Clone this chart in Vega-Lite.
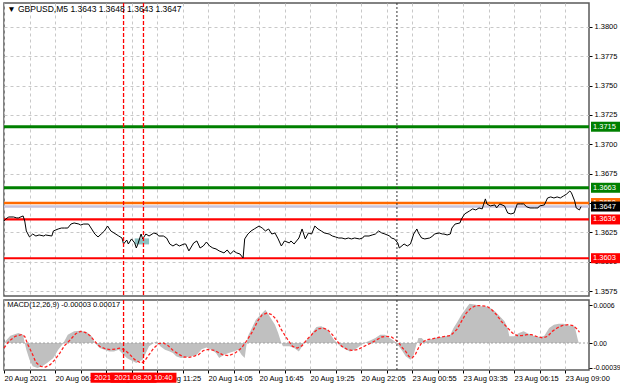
{
  "$schema": "https://vega.github.io/schema/vega-lite/v6.json",
  "background": "white",
  "padding": {"left": 0, "top": 1, "right": 0, "bottom": 0},
  "spacing": 0,
  "config": {
    "font": "Liberation Sans",
    "view": {"stroke": "#5a5a5a", "strokeWidth": 1.5},
    "axis": {"labelFont": "Liberation Sans", "labelFontSize": 7.5, "labelColor": "#000000", "gridColor": "#c8c8c8", "gridDash": [3, 3], "gridWidth": 1, "domain": false, "tickColor": "#000000", "title": null, "labelOverlap": false, "tickCount": 40}
  },
  "datasets": {
    "price": [
      {"bar":0,"price":1.36347},{"bar":1,"price":1.36364},{"bar":3,"price":1.36381},{"bar":6,"price":1.36381},{"bar":8,"price":1.36373},{"bar":9,"price":1.36373},{"bar":12,"price":1.3639},{"bar":13,"price":1.36347},{"bar":14,"price":1.36262},{"bar":16,"price":1.36211},{"bar":18,"price":1.36236},{"bar":20,"price":1.36219},{"bar":22,"price":1.36228},{"bar":25,"price":1.36219},{"bar":26,"price":1.36228},{"bar":30,"price":1.36219},{"bar":31,"price":1.36262},{"bar":34,"price":1.36279},{"bar":36,"price":1.36287},{"bar":38,"price":1.36287},{"bar":40,"price":1.36287},{"bar":42,"price":1.36321},{"bar":44,"price":1.3633},{"bar":47,"price":1.36321},{"bar":48,"price":1.36313},{"bar":50,"price":1.36321},{"bar":53,"price":1.36321},{"bar":55,"price":1.36279},{"bar":57,"price":1.36236},{"bar":59,"price":1.36211},{"bar":61,"price":1.36236},{"bar":63,"price":1.36262},{"bar":65,"price":1.36304},{"bar":67,"price":1.36262},{"bar":69,"price":1.36245},{"bar":72,"price":1.36219},{"bar":74,"price":1.36202},{"bar":75,"price":1.36151},{"bar":77,"price":1.36185},{"bar":78,"price":1.36151},{"bar":80,"price":1.36194},{"bar":82,"price":1.3616},{"bar":83,"price":1.36117},{"bar":84,"price":1.36151},{"bar":86,"price":1.36236},{"bar":87,"price":1.36194},{"bar":89,"price":1.36236},{"bar":91,"price":1.36219},{"bar":94,"price":1.36245},{"bar":96,"price":1.36236},{"bar":97,"price":1.36219},{"bar":100,"price":1.36219},{"bar":102,"price":1.36202},{"bar":104,"price":1.36151},{"bar":106,"price":1.36134},{"bar":108,"price":1.36151},{"bar":110,"price":1.36134},{"bar":113,"price":1.36151},{"bar":114,"price":1.36151},{"bar":116,"price":1.36092},{"bar":119,"price":1.3616},{"bar":121,"price":1.36177},{"bar":123,"price":1.36117},{"bar":125,"price":1.36134},{"bar":127,"price":1.36168},{"bar":129,"price":1.36134},{"bar":131,"price":1.36117},{"bar":133,"price":1.36109},{"bar":135,"price":1.36092},{"bar":138,"price":1.36075},{"bar":140,"price":1.361},{"bar":142,"price":1.36066},{"bar":144,"price":1.36092},{"bar":146,"price":1.36075},{"bar":148,"price":1.36066},{"bar":150,"price":1.36032},{"bar":151,"price":1.36194},{"bar":153,"price":1.36236},{"bar":155,"price":1.36262},{"bar":157,"price":1.36279},{"bar":160,"price":1.36304},{"bar":162,"price":1.36287},{"bar":164,"price":1.36262},{"bar":166,"price":1.36279},{"bar":168,"price":1.36236},{"bar":170,"price":1.36245},{"bar":172,"price":1.36194},{"bar":174,"price":1.36134},{"bar":176,"price":1.36177},{"bar":179,"price":1.3616},{"bar":180,"price":1.36177},{"bar":182,"price":1.36151},{"bar":185,"price":1.36202},{"bar":187,"price":1.36279},{"bar":189,"price":1.36194},{"bar":191,"price":1.36245},{"bar":193,"price":1.36236},{"bar":195,"price":1.36304},{"bar":197,"price":1.36279},{"bar":199,"price":1.36262},{"bar":201,"price":1.36245},{"bar":204,"price":1.36236},{"bar":206,"price":1.36219},{"bar":208,"price":1.36211},{"bar":210,"price":1.36202},{"bar":212,"price":1.36202},{"bar":214,"price":1.36194},{"bar":216,"price":1.36202},{"bar":218,"price":1.36194},{"bar":220,"price":1.36202},{"bar":223,"price":1.36194},{"bar":225,"price":1.36202},{"bar":226,"price":1.36219},{"bar":229,"price":1.36219},{"bar":231,"price":1.36228},{"bar":233,"price":1.36236},{"bar":235,"price":1.36262},{"bar":237,"price":1.36245},{"bar":239,"price":1.36236},{"bar":242,"price":1.36219},{"bar":243,"price":1.36202},{"bar":245,"price":1.36194},{"bar":247,"price":1.3616},{"bar":248,"price":1.36117},{"bar":251,"price":1.36151},{"bar":253,"price":1.36134},{"bar":255,"price":1.36151},{"bar":257,"price":1.36236},{"bar":259,"price":1.36279},{"bar":260,"price":1.36245},{"bar":262,"price":1.36202},{"bar":264,"price":1.36194},{"bar":267,"price":1.36202},{"bar":269,"price":1.36219},{"bar":270,"price":1.36236},{"bar":273,"price":1.36245},{"bar":275,"price":1.36236},{"bar":276,"price":1.36236},{"bar":278,"price":1.36228},{"bar":280,"price":1.36236},{"bar":281,"price":1.36287},{"bar":283,"price":1.36321},{"bar":286,"price":1.3633},{"bar":287,"price":1.36364},{"bar":289,"price":1.36407},{"bar":292,"price":1.36432},{"bar":294,"price":1.3645},{"bar":296,"price":1.36441},{"bar":298,"price":1.36458},{"bar":300,"price":1.3645},{"bar":302,"price":1.36535},{"bar":303,"price":1.36492},{"bar":305,"price":1.36475},{"bar":308,"price":1.36484},{"bar":309,"price":1.36458},{"bar":311,"price":1.36492},{"bar":314,"price":1.36475},{"bar":316,"price":1.36415},{"bar":318,"price":1.36407},{"bar":320,"price":1.36415},{"bar":322,"price":1.36492},{"bar":324,"price":1.36492},{"bar":326,"price":1.36492},{"bar":328,"price":1.36467},{"bar":330,"price":1.36458},{"bar":333,"price":1.36458},{"bar":335,"price":1.36458},{"bar":336,"price":1.36475},{"bar":339,"price":1.36484},{"bar":341,"price":1.36543},{"bar":343,"price":1.36552},{"bar":345,"price":1.36543},{"bar":347,"price":1.36552},{"bar":349,"price":1.36543},{"bar":351,"price":1.3656},{"bar":353,"price":1.36577},{"bar":355,"price":1.36603},{"bar":356,"price":1.36586},{"bar":358,"price":1.36518},{"bar":359,"price":1.36458},{"bar":361,"price":1.36441},{"bar":362,"price":1.3647}
    ],
    "hist": [
      {"bar":0,"hist":-0.00004},{"bar":1,"hist":0.00003},{"bar":4,"hist":0.000116},{"bar":9,"hist":0.000158},{"bar":12,"hist":0.000132},{"bar":13,"hist":0},{"bar":14,"hist":-0.000105},{"bar":16,"hist":-0.000263},{"bar":18,"hist":-0.000368},{"bar":21,"hist":-0.000395},{"bar":24,"hist":-0.000368},{"bar":27,"hist":-0.000316},{"bar":31,"hist":-0.000237},{"bar":34,"hist":-0.000105},{"bar":37,"hist":-0.00001},{"bar":40,"hist":0.000132},{"bar":44,"hist":0.000184},{"bar":48,"hist":0.000195},{"bar":52,"hist":0.000168},{"bar":55,"hist":0.000105},{"bar":57,"hist":0},{"bar":60,"hist":-0.000079},{"bar":63,"hist":-0.000105},{"bar":66,"hist":-0.000132},{"bar":69,"hist":-0.000132},{"bar":72,"hist":-0.000105},{"bar":75,"hist":-0.000184},{"bar":77,"hist":-0.000237},{"bar":79,"hist":-0.000263},{"bar":81,"hist":-0.000289},{"bar":83,"hist":-0.000316},{"bar":85,"hist":-0.000289},{"bar":87,"hist":-0.000263},{"bar":89,"hist":-0.000158},{"bar":91,"hist":-0.000053},{"bar":94,"hist":0},{"bar":96,"hist":0.000026},{"bar":98,"hist":-0.000053},{"bar":101,"hist":-0.000105},{"bar":104,"hist":-0.000132},{"bar":106,"hist":-0.000158},{"bar":108,"hist":-0.00021},{"bar":111,"hist":-0.000237},{"bar":114,"hist":-0.000226},{"bar":118,"hist":-0.00021},{"bar":121,"hist":-0.000184},{"bar":124,"hist":-0.0001},{"bar":127,"hist":-0.00007},{"bar":130,"hist":-0.000105},{"bar":133,"hist":-0.000158},{"bar":135,"hist":-0.000237},{"bar":138,"hist":-0.000184},{"bar":141,"hist":-0.000158},{"bar":144,"hist":-0.000132},{"bar":147,"hist":-0.000105},{"bar":149,"hist":-0.000184},{"bar":151,"hist":-0.000237},{"bar":152,"hist":-0.000053},{"bar":153,"hist":0.000105},{"bar":155,"hist":0.00021},{"bar":158,"hist":0.000368},{"bar":162,"hist":0.000473},{"bar":164,"hist":0.000526},{"bar":166,"hist":0.000447},{"bar":168,"hist":0.000368},{"bar":170,"hist":0.000289},{"bar":172,"hist":0.000158},{"bar":174,"hist":0},{"bar":175,"hist":-0.000053},{"bar":179,"hist":-0.000053},{"bar":182,"hist":-0.000079},{"bar":185,"hist":-0.000132},{"bar":187,"hist":-0.000053},{"bar":188,"hist":0},{"bar":190,"hist":0.000053},{"bar":192,"hist":0.000105},{"bar":194,"hist":0.000184},{"bar":196,"hist":0.000253},{"bar":199,"hist":0.000263},{"bar":203,"hist":0.00021},{"bar":205,"hist":0.000132},{"bar":207,"hist":0.000053},{"bar":209,"hist":0},{"bar":211,"hist":-0.000053},{"bar":214,"hist":-0.000095},{"bar":217,"hist":-0.000132},{"bar":220,"hist":-0.000105},{"bar":223,"hist":-0.000053},{"bar":226,"hist":0},{"bar":230,"hist":0.000042},{"bar":233,"hist":0.000079},{"bar":236,"hist":0.000132},{"bar":239,"hist":0.000132},{"bar":242,"hist":0.000079},{"bar":245,"hist":0.000026},{"bar":247,"hist":-0.000026},{"bar":250,"hist":-0.00013},{"bar":252,"hist":-0.00021},{"bar":255,"hist":-0.000263},{"bar":257,"hist":-0.000184},{"bar":259,"hist":0},{"bar":260,"hist":0.000079},{"bar":262,"hist":0.000079},{"bar":264,"hist":0.000026},{"bar":267,"hist":0.000053},{"bar":270,"hist":0.000079},{"bar":274,"hist":0.000095},{"bar":277,"hist":0.000105},{"bar":280,"hist":0.000132},{"bar":282,"hist":0.000237},{"bar":284,"hist":0.000316},{"bar":287,"hist":0.000447},{"bar":290,"hist":0.000552},{"bar":292,"hist":0.00062},{"bar":296,"hist":0.000605},{"bar":299,"hist":0.000579},{"bar":302,"hist":0.000579},{"bar":305,"hist":0.000552},{"bar":308,"hist":0.0005},{"bar":311,"hist":0.000421},{"bar":314,"hist":0.000342},{"bar":316,"hist":0.000237},{"bar":317,"hist":0.000105},{"bar":320,"hist":0.000105},{"bar":323,"hist":0.000158},{"bar":326,"hist":0.000184},{"bar":329,"hist":0.000147},{"bar":333,"hist":0.000105},{"bar":336,"hist":0.000095},{"bar":339,"hist":0.000116},{"bar":342,"hist":0.000237},{"bar":345,"hist":0.000289},{"bar":348,"hist":0.000305},{"bar":351,"hist":0.000305},{"bar":355,"hist":0.000274},{"bar":358,"hist":0.000263},{"bar":360,"hist":0.00005},{"bar":361,"hist":-0.00003}
    ],
    "signal": [
      {"bar":0,"signal":-0.000079},{"bar":3,"signal":0.000026},{"bar":7,"signal":0.000105},{"bar":11,"signal":0.000132},{"bar":13,"signal":0.000105},{"bar":15,"signal":-0.000026},{"bar":18,"signal":-0.000184},{"bar":20,"signal":-0.000305},{"bar":23,"signal":-0.000368},{"bar":26,"signal":-0.000379},{"bar":29,"signal":-0.000342},{"bar":32,"signal":-0.000263},{"bar":35,"signal":-0.000158},{"bar":38,"signal":-0.000042},{"bar":42,"signal":0.000063},{"bar":45,"signal":0.000147},{"bar":48,"signal":0.000184},{"bar":51,"signal":0.000168},{"bar":54,"signal":0.000116},{"bar":57,"signal":0.000026},{"bar":60,"signal":-0.000053},{"bar":64,"signal":-0.000095},{"bar":67,"signal":-0.000105},{"bar":70,"signal":-0.000095},{"bar":73,"signal":-0.000079},{"bar":76,"signal":-0.000116},{"bar":79,"signal":-0.000184},{"bar":82,"signal":-0.000263},{"bar":86,"signal":-0.000316},{"bar":88,"signal":-0.000289},{"bar":91,"signal":-0.000184},{"bar":94,"signal":-0.000079},{"bar":97,"signal":-0.00001},{"bar":100,"signal":0},{"bar":103,"signal":-0.000042},{"bar":106,"signal":-0.000116},{"bar":110,"signal":-0.000184},{"bar":113,"signal":-0.000221},{"bar":116,"signal":-0.000226},{"bar":119,"signal":-0.00021},{"bar":122,"signal":-0.000184},{"bar":125,"signal":-0.00012},{"bar":128,"signal":-0.0001},{"bar":132,"signal":-0.000116},{"bar":137,"signal":-0.000184},{"bar":141,"signal":-0.0002},{"bar":145,"signal":-0.000158},{"bar":149,"signal":-0.000079},{"bar":152,"signal":0.000026},{"bar":156,"signal":0.000184},{"bar":159,"signal":0.000342},{"bar":162,"signal":0.000447},{"bar":165,"signal":0.000473},{"bar":168,"signal":0.000447},{"bar":171,"signal":0.000368},{"bar":174,"signal":0.00021},{"bar":178,"signal":0.000053},{"bar":181,"signal":-0.000053},{"bar":184,"signal":-0.000079},{"bar":187,"signal":-0.000042},{"bar":190,"signal":0.000053},{"bar":194,"signal":0.000158},{"bar":197,"signal":0.000221},{"bar":200,"signal":0.000237},{"bar":203,"signal":0.00021},{"bar":206,"signal":0.000132},{"bar":209,"signal":0.000026},{"bar":212,"signal":-0.000053},{"bar":215,"signal":-0.000095},{"bar":218,"signal":-0.000116},{"bar":222,"signal":-0.000105},{"bar":225,"signal":-0.000063},{"bar":228,"signal":-0.000026},{"bar":231,"signal":0.00001},{"bar":234,"signal":0.000053},{"bar":237,"signal":0.000095},{"bar":240,"signal":0.000105},{"bar":243,"signal":0.000095},{"bar":247,"signal":0.000026},{"bar":250,"signal":-0.000079},{"bar":252,"signal":-0.000132},{"bar":254,"signal":-0.00021},{"bar":256,"signal":-0.000237},{"bar":258,"signal":-0.000184},{"bar":260,"signal":-0.000079},{"bar":262,"signal":0},{"bar":265,"signal":0.000053},{"bar":268,"signal":0.000063},{"bar":271,"signal":0.000079},{"bar":274,"signal":0.000095},{"bar":277,"signal":0.000105},{"bar":280,"signal":0.000116},{"bar":284,"signal":0.00021},{"bar":287,"signal":0.000342},{"bar":290,"signal":0.000473},{"bar":293,"signal":0.000552},{"bar":296,"signal":0.000589},{"bar":299,"signal":0.000589},{"bar":303,"signal":0.000579},{"bar":306,"signal":0.000526},{"bar":309,"signal":0.000447},{"bar":312,"signal":0.000342},{"bar":316,"signal":0.000237},{"bar":319,"signal":0.000158},{"bar":322,"signal":0.000116},{"bar":325,"signal":0.000116},{"bar":328,"signal":0.000132},{"bar":331,"signal":0.000132},{"bar":334,"signal":0.000105},{"bar":338,"signal":0.000079},{"bar":341,"signal":0.000105},{"bar":344,"signal":0.000184},{"bar":347,"signal":0.000237},{"bar":350,"signal":0.000274},{"bar":354,"signal":0.000289},{"bar":357,"signal":0.000274},{"bar":360,"signal":0.00021},{"bar":361,"signal":0.00017}
    ],
    "levels": [
      {"price":1.3715,"kind":"major resistance","label":"1.3715"},
      {"price":1.3663,"kind":"resistance","label":"1.3663"},
      {"price":1.3650,"kind":"target","label":"1.3650"},
      {"price":1.3647,"kind":"bid","label":"1.3647"},
      {"price":1.3636,"kind":"support","label":"1.3636"},
      {"price":1.3603,"kind":"major support","label":"1.3603"}
    ],
    "markers": [
      {"bar":75,"time":"2021.08.20 09:40"},
      {"bar":87.5,"time":"2021.08.20 10:40"}
    ],
    "separator": [{"bar":246.5}]
  },
  "vconcat": [
    {
      "width": 585,
      "height": 293,
      "layer": [
        {
          "data": {"name": "levels"},
          "mark": {"type": "rule"},
          "encoding": {
            "y": {"field": "price", "type": "quantitative", "scale": {"domain": [1.35708, 1.38204], "nice": false, "zero": false},
              "axis": {"orient": "right", "values": [1.3575, 1.36, 1.3625, 1.365, 1.3675, 1.37, 1.3725, 1.375, 1.3775, 1.38], "tickCount": 40, "format": ".4f", "tickSize": 3, "labelPadding": 2, "grid": true}},
            "color": {"field": "kind", "type": "nominal", "legend": null, "scale": {"domain": ["major resistance", "resistance", "target", "bid", "support", "major support"], "range": ["#008000", "#008000", "#ff6a00", "#c8c4dc", "#ff0000", "#ff0000"]}},
            "strokeWidth": {"field": "kind", "type": "nominal", "legend": null, "scale": {"domain": ["major resistance", "resistance", "target", "bid", "support", "major support"], "range": [3, 2, 1, 1, 2, 4]}}
          }
        },
        {
          "data": {"name": "separator"},
          "mark": {"type": "rule", "strokeWidth": 1, "strokeDash": [2, 2]},
          "encoding": {
            "x": {"field": "bar", "type": "quantitative", "scale": {"domain": [0, 367], "nice": false, "zero": false},
              "axis": {"values": [0,16,32,48,64,80,96,112,128,144,160,176,192,208,224,240,256,272,288,304,320,336,352], "tickCount": 40, "labels": false, "ticks": false, "grid": true, "minExtent": 0, "maxExtent": 0}},
            "color": {"value": "#333333"}
          }
        },
        {
          "data": {"values": [{"bar": 82, "bar2": 91, "price": 1.36173}]},
          "mark": {"type": "rect", "opacity": 0.8, "yOffset": -3, "y2Offset": 3},
          "encoding": {"x": {"field": "bar", "type": "quantitative"}, "x2": {"field": "bar2"}, "y": {"field": "price", "type": "quantitative"}, "y2": {"field": "price"}, "color": {"value": "#6fb3b3"}}
        },
        {
          "data": {"name": "price"},
          "mark": {"type": "line", "strokeWidth": 1},
          "encoding": {"x": {"field": "bar", "type": "quantitative"}, "y": {"field": "price", "type": "quantitative"}, "color": {"value": "#000000"}}
        },
        {
          "data": {"name": "markers"},
          "mark": {"type": "rule", "color": "#ff0000", "stroke": "#ff0000", "strokeWidth": 1.3, "strokeDash": [4, 2]},
          "encoding": {"x": {"field": "bar", "type": "quantitative"}}
        },
        {
          "data": {"values": [{"text": "▼  GBPUSD,M5  1.3643 1.3648 1.3643 1.3647"}]},
          "mark": {"type": "text", "align": "left", "baseline": "middle", "fontSize": 8.5, "font": "Liberation Sans"},
          "encoding": {"x": {"datum": 2}, "y": {"datum": 1.38153}, "text": {"field": "text"}, "color": {"value": "#000000"}}
        },
        {
          "data": {"name": "levels"},
          "transform": [{"filter": "datum.kind != 'bid'"}],
          "layer": [
            {
              "mark": {"type": "rect", "clip": false, "xOffset": 2, "x2Offset": 31, "yOffset": -5, "y2Offset": 5},
              "encoding": {
                "x": {"datum": 367}, "x2": {"datum": 367},
                "y": {"field": "price", "type": "quantitative"}, "y2": {"field": "price"},
                "color": {"field": "kind", "type": "nominal", "legend": null}
              }
            },
            {
              "mark": {"type": "text", "clip": false, "align": "left", "baseline": "middle", "dx": 4, "fontSize": 7.5, "font": "Liberation Sans"},
              "encoding": {"x": {"datum": 367}, "y": {"field": "price", "type": "quantitative"}, "text": {"field": "label"}, "color": {"value": "#ffffff"}}
            }
          ]
        },
        {
          "data": {"name": "levels"},
          "transform": [{"filter": "datum.kind == 'bid'"}],
          "layer": [
            {
              "mark": {"type": "rect", "clip": false, "xOffset": 2, "x2Offset": 31, "yOffset": -5, "y2Offset": 5},
              "encoding": {"x": {"datum": 367}, "x2": {"datum": 367}, "y": {"field": "price", "type": "quantitative"}, "y2": {"field": "price"}, "color": {"value": "#000000"}}
            },
            {
              "mark": {"type": "text", "clip": false, "align": "left", "baseline": "middle", "dx": 4, "fontSize": 7.5, "font": "Liberation Sans"},
              "encoding": {"x": {"datum": 367}, "y": {"field": "price", "type": "quantitative"}, "text": {"field": "label"}, "color": {"value": "#ffffff"}}
            }
          ]
        }
      ]
    },
    {
      "width": 585,
      "height": 70,
      "layer": [
        {
          "data": {"name": "hist"},
          "mark": {"type": "area", "opacity": 1},
          "encoding": {
            "x": {"field": "bar", "type": "quantitative", "scale": {"domain": [0, 367], "nice": false, "zero": false},
              "axis": {"values": [0,16,32,48,64,80,96,112,128,144,160,176,192,208,224,240,256,272,288,304,320,336,352], "tickCount": 40, "grid": true, "tickSize": 3, "labelAlign": "left", "labelPadding": 1, "labelFontSize": 7.5, "labelBound": false, "labelFlush": false,
                "labelExpr": "['20 Aug 2021','','20 Aug 06:05','','20 Aug 08:45','','20 Aug 11:25','','20 Aug 14:05','','20 Aug 16:45','','20 Aug 19:25','','20 Aug 22:05','','23 Aug 00:55','','23 Aug 03:35','','23 Aug 06:15','','23 Aug 09:00'][round(datum.value/16)]"}},
            "y": {"field": "hist", "type": "quantitative", "scale": {"domain": [-0.000426, 0.000679], "nice": false, "zero": false},
              "axis": {"orient": "right", "values": [-0.00039, 0, 0.0006], "tickCount": 40, "grid": false, "tickSize": 3, "labelPadding": 1, "labelFontSize": 6.9,
                "labelExpr": "datum.value == 0 ? '0.00' : (datum.value > 0 ? '0.0006' : '-0.00039')"}},
            "y2": {"datum": 0},
            "color": {"value": "#c0c0c0"}
          }
        },
        {
          "data": {"values": [{"v": 0}]},
          "mark": {"type": "rule", "strokeDash": [2, 2], "strokeWidth": 1},
          "encoding": {"y": {"field": "v", "type": "quantitative"}, "color": {"value": "#a0a0a0"}}
        },
        {
          "data": {"name": "signal"},
          "mark": {"type": "line", "strokeWidth": 1.3, "strokeDash": [3, 2]},
          "encoding": {"x": {"field": "bar", "type": "quantitative"}, "y": {"field": "signal", "type": "quantitative"}, "color": {"value": "#ff2020"}}
        },
        {
          "data": {"name": "separator"},
          "mark": {"type": "rule", "strokeWidth": 1, "strokeDash": [2, 2]},
          "encoding": {"x": {"field": "bar", "type": "quantitative"}, "color": {"value": "#333333"}}
        },
        {
          "data": {"name": "markers"},
          "mark": {"type": "rule", "color": "#ff0000", "stroke": "#ff0000", "strokeWidth": 1.3, "strokeDash": [4, 2]},
          "encoding": {"x": {"field": "bar", "type": "quantitative"}}
        },
        {
          "data": {"values": [{"text": "MACD(12,26,9) -0.00003 0.00017"}]},
          "mark": {"type": "text", "align": "left", "baseline": "middle", "fontSize": 7.5, "font": "Liberation Sans"},
          "encoding": {"x": {"datum": 2}, "y": {"datum": 0.0006}, "text": {"field": "text"}, "color": {"value": "#000000"}}
        },
        {
          "data": {"name": "markers"},
          "transform": [{"filter": "datum.bar < 80"}],
          "layer": [
            {
              "mark": {"type": "rect", "clip": false, "xOffset": -33, "x2Offset": 33, "yOffset": -5, "y2Offset": 5},
              "encoding": {"x": {"field": "bar", "type": "quantitative"}, "x2": {"field": "bar"}, "y": {"datum": -0.00055}, "y2": {"datum": -0.00055}, "color": {"value": "#ff0000"}}
            },
            {
              "mark": {"type": "text", "clip": false, "align": "center", "baseline": "middle", "fontSize": 7.5, "font": "Liberation Sans"},
              "encoding": {"x": {"field": "bar", "type": "quantitative"}, "y": {"datum": -0.00055}, "text": {"field": "time"}, "color": {"value": "#ffffff"}}
            }
          ]
        },
        {
          "data": {"name": "markers"},
          "transform": [{"filter": "datum.bar > 80"}],
          "layer": [
            {
              "mark": {"type": "rect", "clip": false, "xOffset": -33, "x2Offset": 33, "yOffset": -5, "y2Offset": 5},
              "encoding": {"x": {"field": "bar", "type": "quantitative"}, "x2": {"field": "bar"}, "y": {"datum": -0.00055}, "y2": {"datum": -0.00055}, "color": {"value": "#ff0000"}}
            },
            {
              "mark": {"type": "text", "clip": false, "align": "center", "baseline": "middle", "fontSize": 7.5, "font": "Liberation Sans"},
              "encoding": {"x": {"field": "bar", "type": "quantitative"}, "y": {"datum": -0.00055}, "text": {"field": "time"}, "color": {"value": "#ffffff"}}
            }
          ]
        }
      ]
    }
  ]
}
